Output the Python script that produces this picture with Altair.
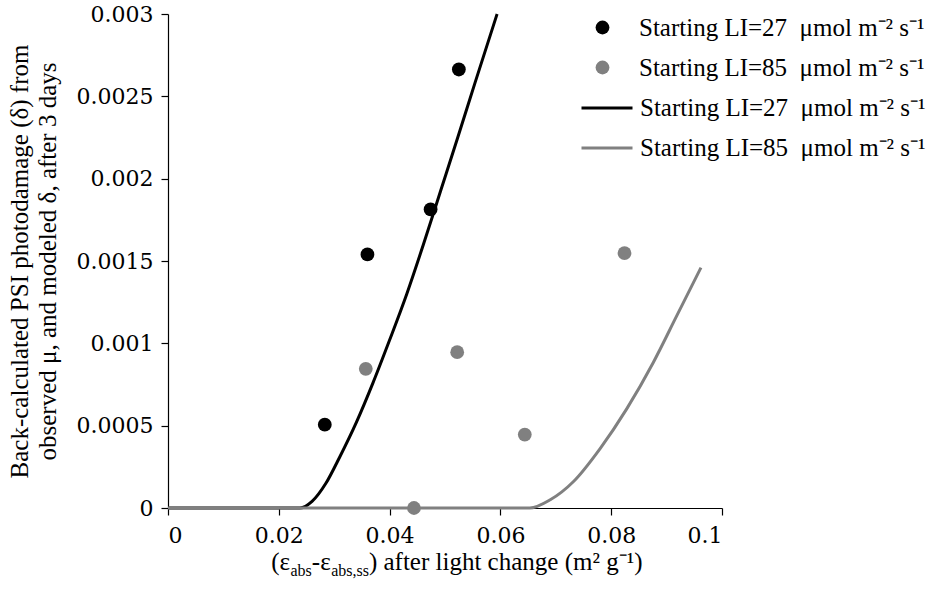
import altair as alt
import pandas as pd

# Back-calculated photodamage from observed growth (points)
obs27_x = [0.0283, 0.0360, 0.0474, 0.0525]
obs27_y = [0.000506, 0.00154, 0.001813, 0.002663]
obs85_x = [0.0357, 0.0444, 0.0522, 0.0644, 0.0824]
obs85_y = [0.000845, 0.0, 0.000946, 0.000446, 0.001548]

# Modeled photodamage curves
mod27_x = [0.0, 0.0238, 0.0260, 0.0285, 0.0310, 0.0340, 0.0370, 0.0400,
           0.0431, 0.0461, 0.0492, 0.0523, 0.0554, 0.0594]
mod27_y = [0.0, 0.0, 0.00004, 0.00015, 0.00031, 0.00052, 0.00076, 0.00102,
           0.00130, 0.00160, 0.001925, 0.00225, 0.00258, 0.003]
mod85_x = [0.0, 0.0653, 0.0690, 0.0732, 0.0780, 0.0828, 0.0876, 0.0918, 0.0962]
mod85_y = [0.0, 0.0, 0.00005, 0.000161, 0.000361, 0.000602, 0.000884, 0.001165, 0.00146]

x_ticks = [0, 0.02, 0.04, 0.06, 0.08, 0.1]
y_ticks = [0, 0.0005, 0.001, 0.0015, 0.002, 0.0025, 0.003]

LAB27 = "Starting LI=27\u00a0 μmol m⁻² s⁻¹"
LAB85 = "Starting LI=85\u00a0 μmol m⁻² s⁻¹"
BLACK, GREY = "#000000", "#808080"

y_title = ["Back-calculated PSI photodamage (δ) from",
           "observed μ, and modeled δ, after 3 days"]

TOP, LEFT = 14, 168
W, H = 554, 494
SERIF = "Liberation Serif, Times New Roman, serif"
NUMS = "DejaVu Serif, serif"

pts = pd.DataFrame({
    "x": obs27_x + obs85_x,
    "y": obs27_y + obs85_y,
    "series": [LAB27] * len(obs27_x) + [LAB85] * len(obs85_x),
})
curves = pd.DataFrame({
    "x": mod27_x + mod85_x,
    "y": mod27_y + mod85_y,
    "curve": [LAB27] * len(mod27_x) + [LAB85] * len(mod85_x),
    "idx": list(range(len(mod27_x))) + list(range(len(mod85_x))),
})

x_enc = alt.X("x:Q", scale=alt.Scale(domain=[0, 0.1], nice=False, zero=False),
              axis=alt.Axis(values=x_ticks, format="~g", title=None, labelPadding=10))
y_enc = alt.Y("y:Q", scale=alt.Scale(domain=[0, 0.003], nice=False),
              axis=alt.Axis(values=y_ticks, format="~g", title=y_title,
                            titlePadding=16, titleLineHeight=28))

lines = alt.Chart(curves).mark_line(strokeWidth=3, interpolate="monotone").encode(
    x=x_enc, y=y_enc,
    order=alt.Order("idx:Q"),
    stroke=alt.Stroke("curve:N",
                      scale=alt.Scale(domain=[LAB27, LAB85], range=[BLACK, GREY]),
                      legend=alt.Legend(orient="none", legendX=412, legendY=67,
                                        title=None, symbolType="stroke",
                                        symbolSize=2601, symbolStrokeWidth=3,
                                        labelOffset=6, rowPadding=-11, padding=0,
                                        labelLimit=400, labelFont=SERIF,
                                        labelFontSize=25, labelColor="black")),
)

points = alt.Chart(pts).mark_circle(size=190, opacity=1).encode(
    x=x_enc, y=y_enc,
    fill=alt.Fill("series:N",
                  scale=alt.Scale(domain=[LAB27, LAB85], range=[BLACK, GREY]),
                  legend=alt.Legend(orient="none", legendX=422, legendY=1,
                                    title=None, symbolType="circle",
                                    symbolSize=190, symbolStrokeWidth=0,
                                    labelOffset=24, rowPadding=14, padding=0,
                                    labelLimit=400, labelFont=SERIF,
                                    labelFontSize=25, labelColor="black")),
)

# x-axis title with subscripts, assembled from text pieces
adv = {"(": 0.333, ")": 0.333, "-": 0.333, ",": 0.25, " ": 0.25, "a": 0.444,
       "b": 0.5, "s": 0.389, "f": 0.333, "t": 0.278, "e": 0.444, "r": 0.333,
       "l": 0.278, "i": 0.278, "g": 0.5, "h": 0.5, "c": 0.444, "n": 0.5,
       "m": 0.778, "²": 0.3, "¹": 0.3, "⁻": 0.333, "ε": 0.44}
MAIN, SUB = 25, 16
pieces = [("(ε", MAIN, 0), ("abs", SUB, 6), ("-ε", MAIN, 0),
          ("abs,ss", SUB, 6), (") after light change (m² g⁻¹)", MAIN, 0)]
total = sum(sum(adv.get(ch, 0.5) for ch in t) * s for t, s, _ in pieces)
cx = W / 2 + 12
base_y = H + 62
x0 = cx - total / 2
title_layers = []
one = pd.DataFrame({"k": [0]})
for t, s, dy in pieces:
    title_layers.append(
        alt.Chart(one).mark_text(align="left", baseline="alphabetic",
                                 font=SERIF, fontSize=s, color="black").encode(
            x=alt.value(x0), y=alt.value(base_y + dy), text=alt.value(t))
    )
    x0 += sum(adv.get(ch, 0.5) for ch in t) * s

chart = alt.layer(lines, points, *title_layers).resolve_legend(
    fill="independent", stroke="independent"
).properties(
    width=W, height=H,
    autosize=alt.AutoSizeParams(type="none"),
    padding={"left": LEFT, "top": TOP, "right": 935 - LEFT - W, "bottom": 590 - TOP - H},
    background="white",
).configure_view(stroke=None).configure_axis(
    grid=False, domainColor="black", domainWidth=1.2, tickColor="black",
    tickSize=7, tickWidth=1.2, labelFont=NUMS, labelFontSize=22,
    labelColor="black", labelPadding=8, titleFont=SERIF, titleFontSize=25,
    titleFontWeight="normal", titleColor="black",
)

chart.save("out.html", embed_options={"renderer": "svg", "actions": False})
